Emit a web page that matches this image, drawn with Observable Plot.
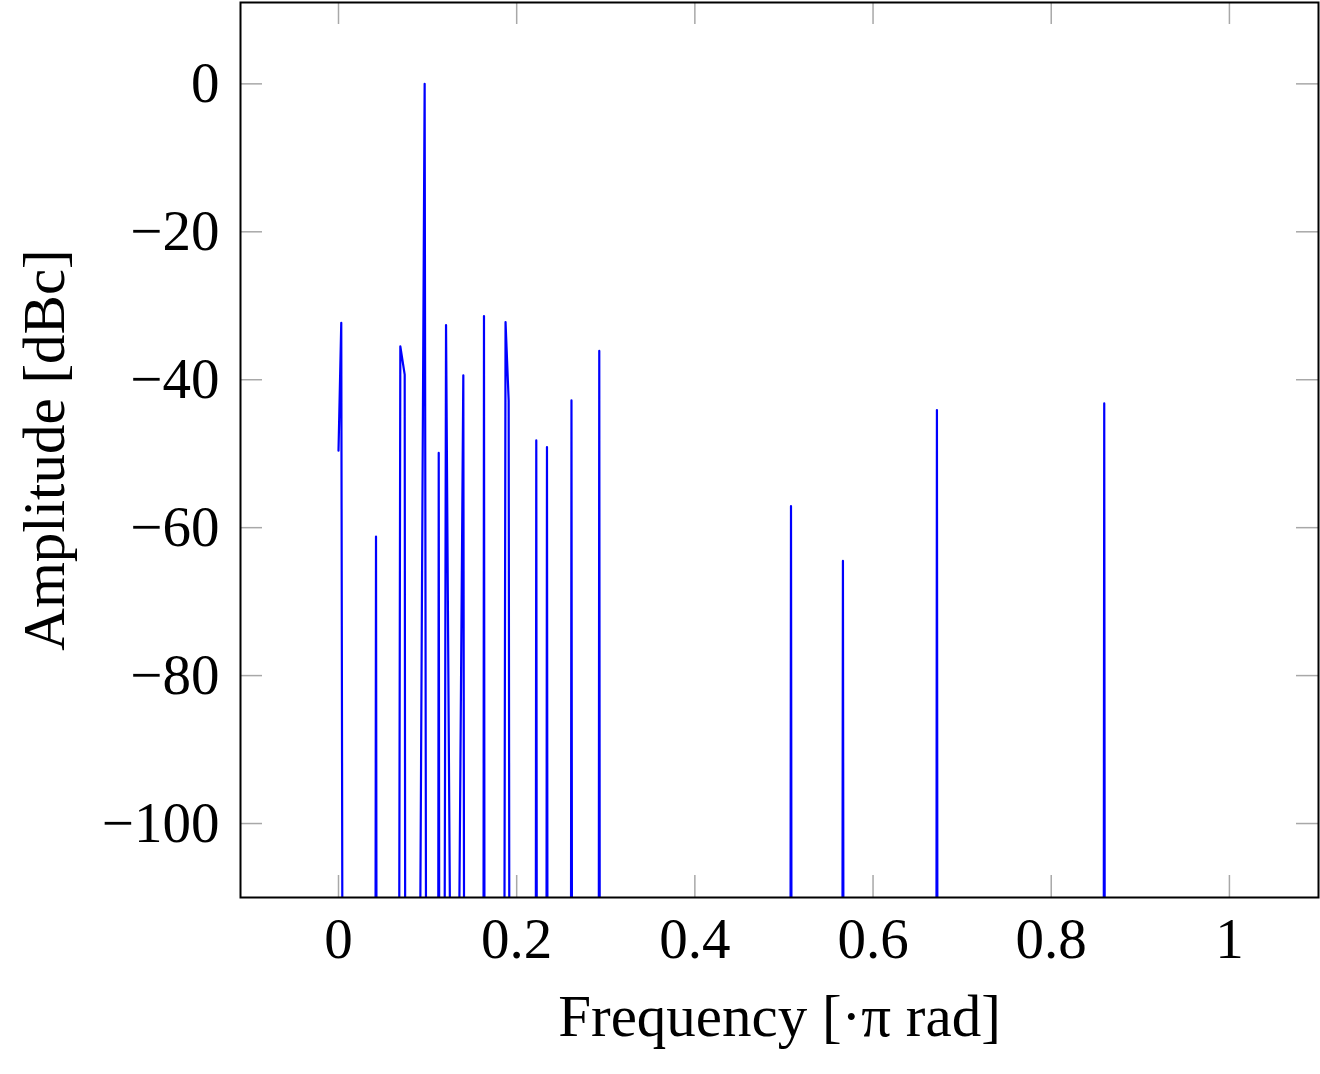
<!DOCTYPE html>
<html>
<head>
<meta charset="utf-8">
<script src="https://cdn.jsdelivr.net/npm/d3@7"></script>
<script src="https://cdn.jsdelivr.net/npm/@observablehq/plot@0.6"></script>
<style>
  html, body { margin: 0; padding: 0; background: #fff; }
  #chart { width: 1320px; height: 1074px; }
</style>
</head>
<body>
<div id="chart"></div>
<script>
// Spectrum samples (frequency in ·π rad, amplitude in dBc); values below -110 fall outside the view
const freq = [
  0, 0.0031, 0.0043,
  0.0416, 0.0421, 0.0426,
  0.0682, 0.0694, 0.0743, 0.0748,
  0.0918, 0.0967, 0.0982,
  0.1120, 0.1125, 0.1130,
  0.1192, 0.1207, 0.1251,
  0.1356, 0.1401, 0.1409,
  0.1628, 0.1633, 0.1638,
  0.1863, 0.1875, 0.1910, 0.1917,
  0.2215, 0.2220, 0.2225,
  0.2335, 0.2340, 0.2345,
  0.2610, 0.2615, 0.2620,
  0.2922, 0.2927, 0.2932,
  0.5074, 0.5079, 0.5084,
  0.5657, 0.5662, 0.5667,
  0.6712, 0.6717, 0.6722,
  0.8590, 0.8595, 0.8600,
  1.0
];
const amp = [
  -49.6, -32.3, -112,
  -112, -61.2, -112,
  -112, -35.5, -39.3, -112,
  -112, 0, -112,
  -112, -49.9, -112,
  -112, -32.6, -112,
  -112, -39.4, -112,
  -112, -31.4, -112,
  -112, -32.2, -42.8, -112,
  -112, -48.2, -112,
  -112, -49.1, -112,
  -112, -42.8, -112,
  -112, -36.1, -112,
  -112, -57.1, -112,
  -112, -64.5, -112,
  -112, -44.1, -112,
  -112, -43.2, -112,
  -112
];
const xTicks = [0, 0.2, 0.4, 0.6, 0.8, 1];
const yTicks = [0, -20, -40, -60, -80, -100];
const xLabel = "Frequency [·π rad]";
const yLabel = "Amplitude [dBc]";

const data = freq.map((f, i) => ({f, a: amp[i]}));

const W = 1320, H = 1074;
const mL = 240, mR = 2, mT = 2, mB = 177;
const plotW = W - mL - mR, plotH = H - mT - mB;
const tickLen = 22;
const tickColor = "#a8a8a8";
const fmtY = d => d < 0 ? "\u2212" + (-d) : String(d);

const chart = Plot.plot({
  width: W,
  height: H,
  marginLeft: mL,
  marginRight: mR,
  marginTop: mT,
  marginBottom: mB,
  style: {fontFamily: "'Liberation Serif', 'DejaVu Serif', serif", background: "#fff", color: "#000"},
  x: {domain: [-0.11, 1.1]},
  y: {domain: [-110, 11]},
  marks: [
    Plot.tickX(xTicks, {x: d => d, stroke: tickColor, strokeWidth: 1.5, insetTop: plotH - tickLen}),
    Plot.tickX(xTicks, {x: d => d, stroke: tickColor, strokeWidth: 1.5, insetBottom: plotH - tickLen}),
    Plot.tickY(yTicks, {y: d => d, stroke: tickColor, strokeWidth: 1.5, insetLeft: plotW - tickLen}),
    Plot.tickY(yTicks, {y: d => d, stroke: tickColor, strokeWidth: 1.5, insetRight: plotW - tickLen}),
    Plot.line(data, {x: "f", y: "a", stroke: "#0000ff", strokeWidth: 2.2, clip: true}),
    Plot.frame({stroke: "#000", strokeWidth: 2}),
    Plot.axisX(xTicks, {tickSize: 0, tickPadding: 20, fontSize: 57, tickFormat: d => String(d), label: null}),
    Plot.axisY(yTicks, {tickSize: 0, tickPadding: 21, fontSize: 57, tickFormat: fmtY, label: null}),
    Plot.text([xLabel], {text: d => d, frameAnchor: "bottom", textAnchor: "middle", dy: 138, fontSize: 59}),
    Plot.text([yLabel], {text: d => d, frameAnchor: "left", textAnchor: "middle", dx: -195, rotate: -90, fontSize: 59})
  ]
});
document.getElementById("chart").appendChild(chart);
</script>
</body>
</html>
